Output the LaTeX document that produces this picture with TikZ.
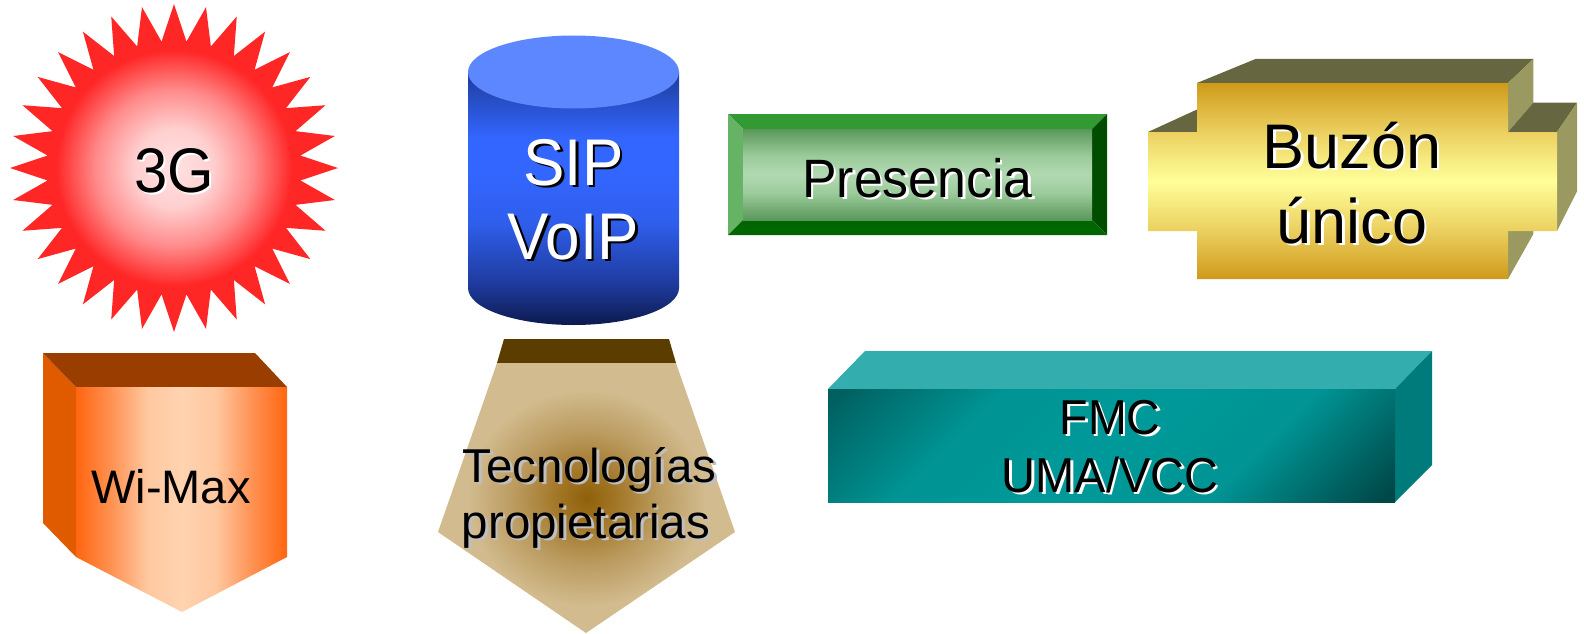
\documentclass[tikz,border=0pt]{standalone}
\usepackage{fontspec}
\setmainfont{Liberation Sans}
\usetikzlibrary{calc}

% colours
\definecolor{starA}{HTML}{FFE2E2}
\definecolor{starB}{HTML}{FFCFCF}
\definecolor{starC}{HTML}{FF8A8A}
\definecolor{starD}{HTML}{FF2626}
\definecolor{cylTop}{HTML}{5C87FF}
\definecolor{cylA}{HTML}{0D1A4F}
\definecolor{cylB}{HTML}{1E3A9C}
\definecolor{cylC}{HTML}{2F5EEB}
\definecolor{cylD}{HTML}{3366FF}
\definecolor{cylE}{HTML}{1E3C9A}
\definecolor{gTop}{HTML}{339933}
\definecolor{gLeft}{HTML}{66B366}
\definecolor{gRight}{HTML}{004D00}
\definecolor{gBot}{HTML}{006600}
\definecolor{gInA}{HTML}{5A985A}
\definecolor{gInB}{HTML}{9CCB9C}
\definecolor{gInC}{HTML}{B2D9B2}
\definecolor{olTop}{HTML}{666640}
\definecolor{olSide}{HTML}{999960}
\definecolor{yA}{HTML}{CF9A1A}
\definecolor{yB}{HTML}{EBD060}
\definecolor{yC}{HTML}{FFFF99}
\definecolor{oTop}{HTML}{993D00}
\definecolor{oLeft}{HTML}{E05A00}
\definecolor{oA}{HTML}{FF6610}
\definecolor{oB}{HTML}{FF9050}
\definecolor{oC}{HTML}{FFC8A0}
\definecolor{oD}{HTML}{FFD3B0}
\definecolor{tBand}{HTML}{5C3D00}
\definecolor{tA}{HTML}{8F600A}
\definecolor{tB}{HTML}{A27626}
\definecolor{tC}{HTML}{BA9A5E}
\definecolor{tD}{HTML}{D2BB8E}
\definecolor{fTop}{HTML}{33ADAD}
\definecolor{fSide}{HTML}{007B7B}
\definecolor{fA}{HTML}{006060}
\definecolor{fB}{HTML}{009494}
\definecolor{fC}{HTML}{009999}
\definecolor{fD}{HTML}{004848}

% shadings (path bounding box = 25bp..75bp)
\pgfdeclareradialshading{starshade}{\pgfpoint{0bp}{0bp}}{color(0bp)=(starA); color(6bp)=(starB); color(12bp)=(starC); color(18bp)=(starD); color(50bp)=(starD)}
\pgfdeclareverticalshading{cylshade}{100bp}{color(0bp)=(cylA); color(25bp)=(cylA); color(33bp)=(cylB); color(45bp)=(cylC); color(55bp)=(cylD); color(62bp)=(cylD); color(75bp)=(cylE); color(100bp)=(cylE)}
\pgfdeclareverticalshading{greenshade}{100bp}{color(0bp)=(gInA); color(25bp)=(gInA); color(40bp)=(gInB); color(50bp)=(gInC); color(60bp)=(gInB); color(75bp)=(gInA); color(100bp)=(gInA)}
\pgfdeclareverticalshading{yellowshade}{100bp}{color(0bp)=(yA); color(25bp)=(yA); color(37.5bp)=(yB); color(50bp)=(yC); color(62.5bp)=(yB); color(75bp)=(yA); color(100bp)=(yA)}
\pgfdeclarehorizontalshading{orangeshade}{100bp}{color(0bp)=(oA); color(25bp)=(oA); color(33bp)=(oB); color(42bp)=(oC); color(50bp)=(oD); color(58bp)=(oC); color(67bp)=(oB); color(75bp)=(oA); color(100bp)=(oA)}
\pgfdeclareradialshading{tanshade}{\pgfpoint{0bp}{0bp}}{color(0bp)=(tA); color(5bp)=(tB); color(12bp)=(tC); color(20bp)=(tD); color(50bp)=(tD)}
\pgfdeclarehorizontalshading{fmcshade}{100bp}{color(0bp)=(fA); color(16bp)=(fA); color(33bp)=(fB); color(50bp)=(fC); color(66bp)=(fB); color(84bp)=(fD); color(100bp)=(fD)}

\tikzset{
  lbl/.style={inner sep=0pt, anchor=base},
}
% name, x, y, size, xscale, text colour, shadow colour, text
\newcommand{\shlbl}[8]{%
  \node[lbl, text=#7, font=\fontsize{#4}{#4}\selectfont] (#1-sh) at (#2+2.5,#3+2.5) {\scalebox{#5}[1]{#8}};
  \node[lbl, text=#6, font=\fontsize{#4}{#4}\selectfont] (#1) at (#2,#3) {\scalebox{#5}[1]{#8}};}

\begin{document}
\begin{tikzpicture}[x=1pt,y=-1pt]
\fill[white] (0,0) rectangle (1584,634);
\useasboundingbox (0,0) rectangle (1584,634);

% ---------- 3G starburst ----------
\begin{scope}[shift={(174,168)}]
\path[shading=starshade] (90:164)
  \foreach \i in {0,...,31} { -- ({90+\i*11.25+5.625}:127) -- ({90+(\i+1)*11.25}:164) } -- cycle;
\end{scope}
\shlbl{g3}{174}{192}{63}{0.95}{black}{white}{3G}

% ---------- SIP / VoIP cylinder ----------
\path[shading=cylshade] (468,72) -- (468,288)
  arc[start angle=180, end angle=0, x radius=105.5, y radius=37] -- (679,72) -- cycle;
\fill[cylTop] (573.5,72) ellipse [x radius=105.5, y radius=36.5];
\shlbl{sip}{573.5}{185}{66}{0.94}{white}{black}{SIP}
\shlbl{voip}{573.5}{259}{66}{0.94}{white}{black}{VoIP}

% ---------- Presencia bevel ----------
\fill[gTop] (728,114) -- (1107,114) -- (1092,129) -- (743,129) -- cycle;
\fill[gLeft] (728,114) -- (743,129) -- (743,220) -- (728,235) -- cycle;
\fill[gRight] (1107,114) -- (1107,235) -- (1092,220) -- (1092,129) -- cycle;
\fill[gBot] (728,235) -- (1107,235) -- (1092,220) -- (743,220) -- cycle;
\path[shading=greenshade] (743,129) rectangle (1092,220);
\shlbl{pres}{917.5}{197}{54}{0.96}{black}{white}{Presencia}

% ---------- Buzon unico cross ----------
\coordinate (V) at (1745,-142);
\coordinate (A) at (1197,83);
\coordinate (B) at (1508,83);
\coordinate (C) at (1508,132);
\coordinate (D) at (1557,132);
\coordinate (E) at (1557,231);
\coordinate (F) at (1508,231);
\coordinate (G) at (1508,279);
\coordinate (H) at (1197,279);
\coordinate (I) at (1197,231);
\coordinate (J) at (1148,231);
\coordinate (K) at (1148,132);
\coordinate (L) at (1197,132);
\foreach \p in {A,B,C,D,E,F,G,K,L} { \coordinate (\p b) at ($(\p)!0.107!(V)$); }
\fill[olTop] (A) -- (B) -- (Bb) -- (Ab) -- cycle;
\fill[olSide] (B) -- (Bb) -- (Cb) -- (C) -- cycle;
\fill[olTop] (K) -- (L) -- (Lb) -- (Kb) -- cycle;
\fill[olTop] (C) -- (D) -- (Db) -- (Cb) -- cycle;
\fill[olSide] (D) -- (Db) -- (Eb) -- (E) -- cycle;
\fill[olSide] (F) -- (Fb) -- (Gb) -- (G) -- cycle;
\path[shading=yellowshade] (A) -- (B) -- (C) -- (D) -- (E) -- (F) -- (G) -- (H) -- (I) -- (J) -- (K) -- (L) -- cycle;
\shlbl{buzon}{1352}{168}{63}{1}{black}{white}{Buzón}
\shlbl{unico}{1352}{243}{63}{1}{black}{white}{único}

% ---------- Wi-Max ----------
\fill[oLeft] (43,353) -- (76,387) -- (76,557) -- (43,523) -- cycle;
\fill[oTop] (43,353) -- (255,353) -- (287,387) -- (76,387) -- cycle;
\path[shading=orangeshade] (76,387) -- (287,387) -- (287,557) -- (182,612) -- (76,557) -- cycle;
\node[lbl, font=\fontsize{47}{47}\selectfont] (wimax) at (171,503) {Wi-Max};

% ---------- Tecnologias propietarias ----------
\fill[tBand] (504,339) -- (669,339) -- (676,363) -- (497,363) -- cycle;
\path[shading=tanshade] (497,363) -- (676,363) -- (735,532) -- (586,633) -- (438,532) -- cycle;
\shlbl{tec}{589.5}{482}{47.5}{1}{black}{black!25}{Tecnologías}
\shlbl{prop}{586}{538}{47.5}{1}{black}{black!25}{propietarias}

% ---------- FMC box ----------
\fill[fTop] (828,389) -- (865,351) -- (1432,351) -- (1395,389) -- cycle;
\fill[fSide] (1395,389) -- (1432,351) -- (1432,465) -- (1395,502) -- cycle;
\path[shading=fmcshade, shading angle=-45] (828,389) rectangle (1395,502);
\shlbl{fmc}{1110}{434}{49}{0.95}{black}{white}{FMC}
\shlbl{uma}{1110}{492}{49}{0.96}{black}{white}{UMA/VCC}
\end{tikzpicture}
\end{document}
